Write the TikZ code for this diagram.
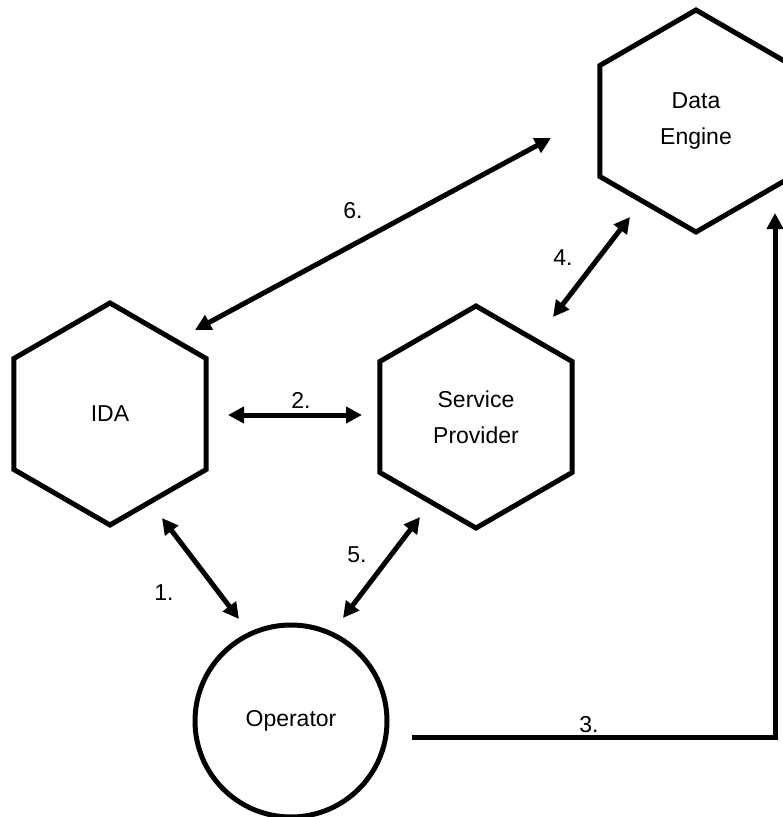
\documentclass[tikz,border=0pt]{standalone}
\usepackage{fontspec}
\setmainfont{Liberation Sans}
\usetikzlibrary{calc,positioning,shapes.geometric,arrows.meta}

\begin{document}
\begin{tikzpicture}[x=1pt,y=-1pt,line width=5pt,
  every node/.style={font=\fontsize{23}{36}\selectfont},
  hexa/.style={draw,regular polygon,regular polygon sides=6,shape border rotate=30,minimum size=222pt,inner sep=0pt,align=center},
  link/.style={{Triangle[length=16pt,width=16pt]}-{Triangle[length=16pt,width=16pt]}}]
\useasboundingbox (0,0) rectangle (783,817);
\clip (0,0) rectangle (783,817);
\node[hexa] (ida) at (110,414) {IDA};
\node[hexa] (sp) at (476,417) {Service\\Provider};
\node[hexa] (de) at (696,121) {Data\\Engine};
\node[draw,circle,minimum size=192pt,inner sep=0pt] (op) at (291,721) {Operator};
\draw[link] ([shift={(52,104)}]ida.center) -- ([shift={(-52,-102)}]op.center);
\draw[link] ([shift={(118,1)}]ida.center) -- ([shift={(-114,-2)}]sp.center);
\draw[-{Triangle[length=16pt,width=16pt]}] ([shift={(121,16)}]op.center) -| ([shift={(79,92)}]de.center);
\draw[link] ([shift={(77,-100)}]sp.center) -- ([shift={(-66,96)}]de.center);
\draw[link] ([shift={(-56,100)}]sp.center) -- ([shift={(52,-103)}]op.center);
\draw[link] ([shift={(85,-84)}]ida.center) -- ([shift={(-145,17)}]de.center);
\node (n1) at (164,593) {1.};
\node (n2) at (301,400) {2.};
\node (n3) at (589,725) {3.};
\node (n4) at (563,258) {4.};
\node (n5) at (357,555) {5.};
\node (n6) at (353,211) {6.};
\end{tikzpicture}
\end{document}
